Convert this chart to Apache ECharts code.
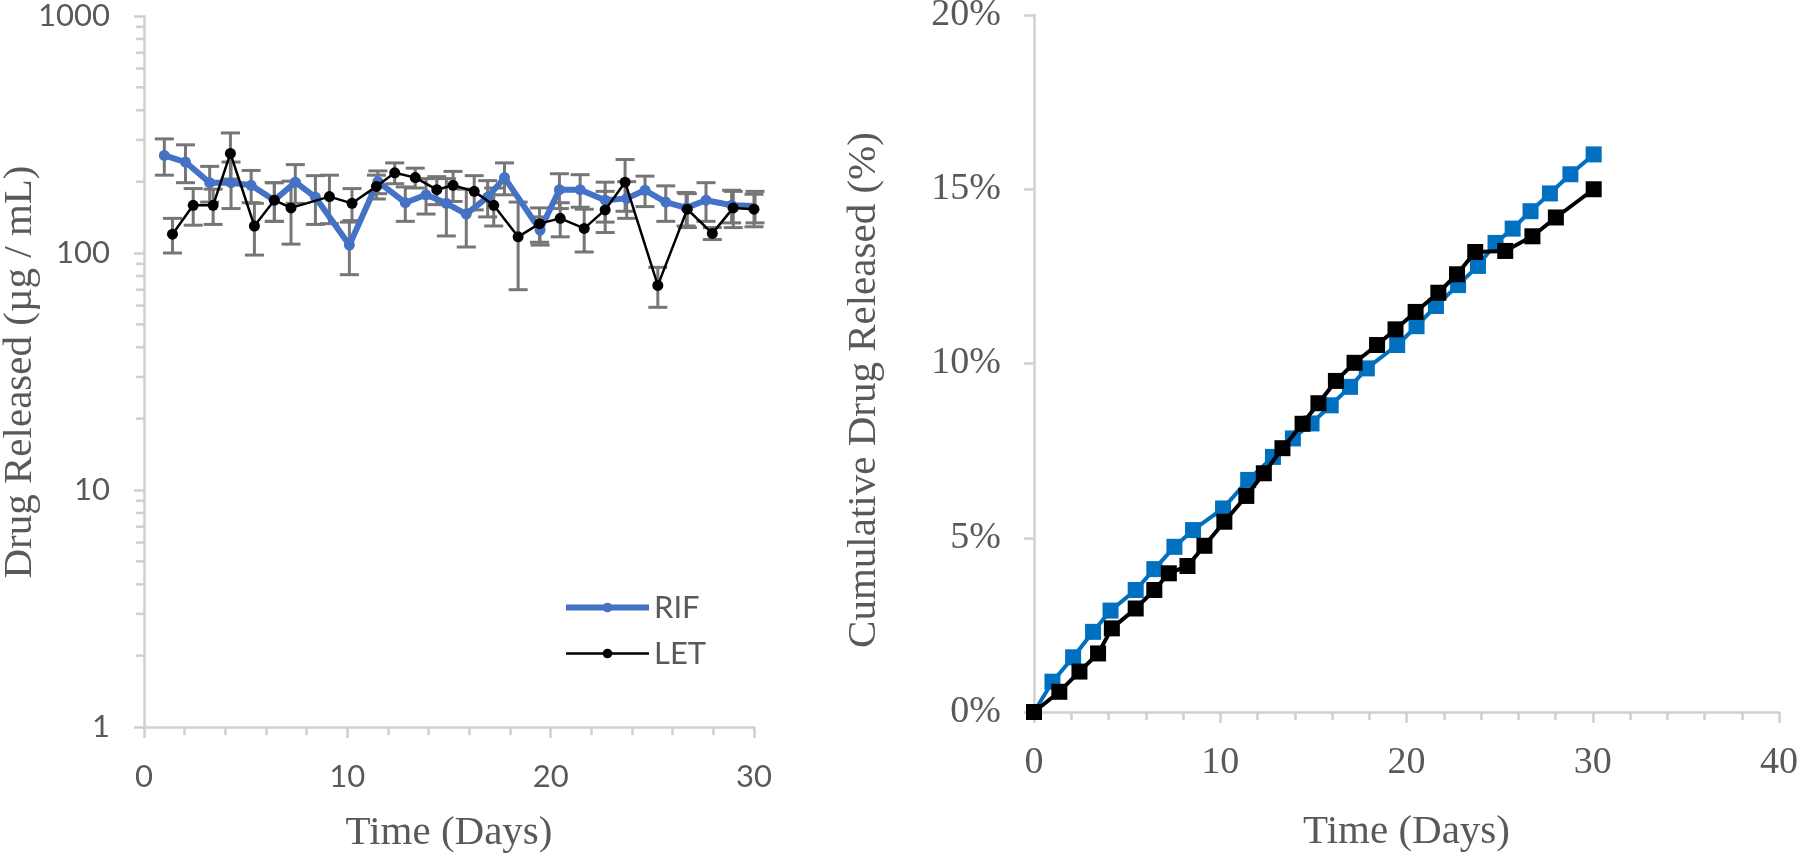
<!DOCTYPE html>
<html><head><meta charset="utf-8">
<script src="https://cdn.jsdelivr.net/npm/echarts@6/dist/echarts.min.js"></script>
<style>html,body{margin:0;padding:0;background:#fff}#c{width:1800px;height:858px}</style>
</head><body><div id="c"></div>
<script>
// ---- Left chart: drug released per sample (log scale) ----
const rifDays = [1.0, 2.04, 3.23, 4.28, 5.27, 6.41, 7.44, 8.43, 10.1, 11.5, 12.85, 13.87, 14.87, 15.85, 16.9, 17.73, 19.48, 20.43, 21.45, 22.68, 23.74, 24.64, 25.66, 26.66, 27.64, 28.9, 30.05];
const rifVals = [258, 242, 198, 198, 193, 167, 199, 172, 108, 200, 163, 176, 162, 146, 172, 208, 125, 185, 185, 167, 170, 184, 164, 155, 167, 159, 158];
const rifErr  = [45, 44, 34, 44, 30, 31, 37, 40, 27, 22, 27, 30, 44, 40, 30, 32, 17, 31, 29, 32, 30, 27, 28, 25, 31, 25, 24];

const letDays = [1.4, 2.42, 3.4, 4.25, 5.43, 6.41, 7.23, 9.12, 10.23, 11.43, 12.33, 13.34, 14.4, 15.2, 16.24, 17.2, 18.4, 19.45, 20.47, 21.65, 22.68, 23.66, 25.27, 26.72, 27.95, 28.98, 30.0];
const letVals = [120, 159, 159, 263, 130, 167, 155, 173, 162, 191, 218, 208, 185, 193, 182, 159, 117, 133, 140, 127, 152, 199, 73, 153, 121, 155, 153];
const letErr  = [20, 28, 27, 58, 32, 31, 46, 40, 25, 22, 22, 20, 25, 28, 30, 29, 47, 22, 23, 26, 30, 49, 14, 25, 7, 27, 24];

const logMinorTicks = [2,3,4,5,6,7,8,9,20,30,40,50,60,70,80,90,200,300,400,500,600,700,800,900];

// ---- Right chart: cumulative release (%) ----
const rifCumDays = [0, 0.99, 2.1, 3.17, 4.11, 5.46, 6.46, 7.54, 8.54, 10.15, 11.5, 12.83, 13.9, 14.9, 15.93, 16.97, 17.87, 19.5, 20.54, 21.58, 22.77, 23.84, 24.78, 25.7, 26.66, 27.7, 28.8, 30.05];
const rifCumVals = [0, 0.87, 1.57, 2.3, 2.91, 3.5, 4.1, 4.74, 5.22, 5.84, 6.66, 7.32, 7.85, 8.28, 8.8, 9.33, 9.86, 10.53, 11.07, 11.65, 12.25, 12.8, 13.46, 13.87, 14.37, 14.88, 15.43, 16.0];
const letCumDays = [0, 1.36, 2.44, 3.44, 4.18, 5.46, 6.46, 7.24, 8.24, 9.15, 10.22, 11.4, 12.34, 13.34, 14.42, 15.27, 16.21, 17.21, 18.42, 19.41, 20.49, 21.71, 22.71, 23.69, 25.3, 26.76, 28.02, 30.05];
const letCumVals = [0, 0.58, 1.16, 1.68, 2.4, 2.97, 3.5, 3.98, 4.19, 4.77, 5.46, 6.2, 6.85, 7.57, 8.27, 8.86, 9.5, 10.02, 10.53, 10.98, 11.48, 12.03, 12.56, 13.2, 13.23, 13.65, 14.19, 15.0];

const leftYTitle = 'Drug Released (µg / mL)';
const rightYTitle = 'Cumulative Drug Released (%)';

const AXIS_C = '#d0d0d0';
const TXT_C = '#595959';
const SANS = 'Lato';
const SERIF = 'Liberation Serif';

function zip(a, b) { return a.map((v, i) => [v, b[i]]); }

function errRender(params, api) {
  const x = api.value(0), lo = api.value(1), hi = api.value(2);
  const pLo = api.coord([x, lo]), pHi = api.coord([x, hi]);
  const w = 9.5;
  const style = { stroke: '#767676', lineWidth: 3, fill: null };
  return { type: 'group', children: [
    { type: 'line', shape: { x1: pLo[0], y1: pLo[1], x2: pHi[0], y2: pHi[1] }, style },
    { type: 'line', shape: { x1: pLo[0] - w, y1: pLo[1], x2: pLo[0] + w, y2: pLo[1] }, style },
    { type: 'line', shape: { x1: pHi[0] - w, y1: pHi[1], x2: pHi[0] + w, y2: pHi[1] }, style }
  ]};
}

const axisCommon = {
  axisLine: { show: true, onZero: false, lineStyle: { color: AXIS_C, width: 2.5 } },
  axisTick: { show: true, length: 11, lineStyle: { color: AXIS_C, width: 2.5 } },
  splitLine: { show: false }
};

const chart = echarts.init(document.getElementById('c'));
chart.setOption({
  animation: false,
  backgroundColor: '#fff',
  grid: [
    { left: 144, top: 16, width: 610, height: 711, outerBoundsMode: 'none', containLabel: false },
    { left: 1034, top: 15, width: 745, height: 697, outerBoundsMode: 'none', containLabel: false }
  ],
  graphic: [
    { type: 'text', x: 20, y: 372, rotation: Math.PI / 2, silent: true,
      style: { text: leftYTitle, fontFamily: SERIF, fontSize: 41, fill: TXT_C, align: 'center', verticalAlign: 'middle' } },
    { type: 'text', x: 864, y: 390, rotation: Math.PI / 2, silent: true,
      style: { text: rightYTitle, fontFamily: SERIF, fontSize: 41, fill: TXT_C, align: 'center', verticalAlign: 'middle' } }
  ],
  legend: {
    data: [
      { name: 'RIF', lineStyle: { width: 6 } },
      { name: 'LET', lineStyle: { width: 2.5 } }
    ],
    orient: 'vertical', left: 558, top: 587,
    itemWidth: 83, itemHeight: 12, itemGap: 15,
    textStyle: { fontFamily: SANS, fontSize: 31, color: TXT_C }
  },
  xAxis: [
    Object.assign({}, axisCommon, {
      gridIndex: 0, type: 'value', min: 0, max: 30, interval: 10,
      minorTick: { show: true, splitNumber: 5, length: 8, lineStyle: { color: AXIS_C, width: 2.5 } },
      axisLabel: { fontFamily: SANS, fontSize: 31, color: TXT_C, margin: 34 },
      name: 'Time (Days)', nameLocation: 'middle', nameGap: 86,
      nameTextStyle: { fontFamily: SERIF, fontSize: 41, color: TXT_C }
    }),
    Object.assign({}, axisCommon, {
      gridIndex: 1, type: 'value', min: 0, max: 40, interval: 10,
      minorTick: { show: true, splitNumber: 5, length: 8, lineStyle: { color: AXIS_C, width: 2.5 } },
      axisLabel: { fontFamily: SERIF, fontSize: 38, color: TXT_C, margin: 32 },
      name: 'Time (Days)', nameLocation: 'middle', nameGap: 100,
      nameTextStyle: { fontFamily: SERIF, fontSize: 41, color: TXT_C }
    })
  ],
  yAxis: [
    Object.assign({}, axisCommon, {
      gridIndex: 0, type: 'log', logBase: 10, min: 1, max: 1000,
      axisTick: { show: true, length: 10, lineStyle: { color: AXIS_C, width: 2.5 } },
      axisLabel: { fontFamily: SANS, fontSize: 31, color: TXT_C, margin: 34, formatter: v => String(Math.round(v)) }
    }),
    Object.assign({}, axisCommon, {
      gridIndex: 1, type: 'value', min: 0, max: 20, interval: 5,
      axisTick: { show: true, length: 10, lineStyle: { color: AXIS_C, width: 2.5 } },
      axisLabel: { fontFamily: SERIF, fontSize: 38, color: TXT_C, margin: 33, formatter: '{value}%' }
    })
  ],
  series: [
    { type: 'scatter', name: 'logMinor', xAxisIndex: 0, yAxisIndex: 0, silent: true, clip: false,
      data: logMinorTicks.map(v => [0, v]), symbol: 'rect', symbolSize: [8, 2.5], symbolOffset: [-4, 0],
      itemStyle: { color: AXIS_C, opacity: 1 }, z: 10 },
    { type: 'custom', name: 'RIF err', xAxisIndex: 0, yAxisIndex: 0, silent: true,
      renderItem: errRender, data: rifDays.map((d, i) => [d, rifVals[i] - rifErr[i], rifVals[i] + rifErr[i]]),
      encode: { x: 0, y: [1, 2] }, z: 2 },
    { type: 'custom', name: 'LET err', xAxisIndex: 0, yAxisIndex: 0, silent: true,
      renderItem: errRender, data: letDays.map((d, i) => [d, letVals[i] - letErr[i], letVals[i] + letErr[i]]),
      encode: { x: 0, y: [1, 2] }, z: 2 },
    { type: 'line', name: 'RIF', xAxisIndex: 0, yAxisIndex: 0, data: zip(rifDays, rifVals),
      symbol: 'circle', symbolSize: 11, showAllSymbol: true,
      lineStyle: { color: '#4472C4', width: 6 }, itemStyle: { color: '#4472C4' }, z: 3 },
    { type: 'line', name: 'LET', xAxisIndex: 0, yAxisIndex: 0, data: zip(letDays, letVals),
      symbol: 'circle', symbolSize: 11, showAllSymbol: true,
      lineStyle: { color: '#000000', width: 2.5 }, itemStyle: { color: '#000000' }, z: 4 },
    { type: 'line', name: 'RIF', xAxisIndex: 1, yAxisIndex: 1, data: zip(rifCumDays, rifCumVals),
      symbol: 'rect', symbolSize: 16, showAllSymbol: true,
      lineStyle: { color: '#0070C0', width: 4 }, itemStyle: { color: '#0070C0' }, z: 3 },
    { type: 'line', name: 'LET', xAxisIndex: 1, yAxisIndex: 1, data: zip(letCumDays, letCumVals),
      symbol: 'rect', symbolSize: 16, showAllSymbol: true,
      lineStyle: { color: '#000000', width: 4 }, itemStyle: { color: '#000000' }, z: 4 }
  ]
});
</script></body></html>
